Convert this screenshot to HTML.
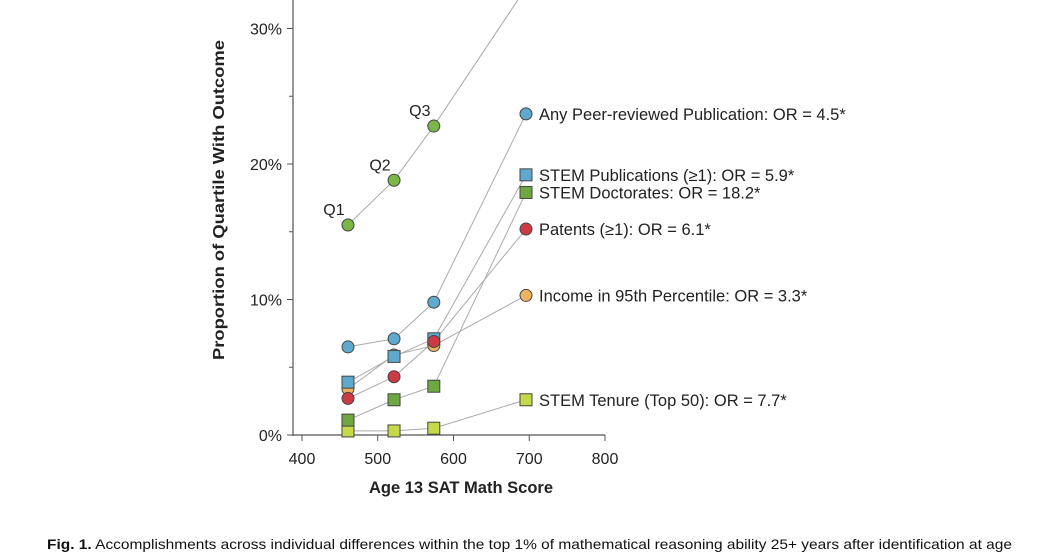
<!DOCTYPE html>
<html><head><meta charset="utf-8"><style>
html,body{margin:0;padding:0;background:#fff;}
svg{display:block;font-family:"Liberation Sans",sans-serif;}
</style></head><body>
<svg id="chart" width="1056" height="554" viewBox="0 0 1056 554">
<g id="axes"></g>
<g id="series"></g>
<text x="461" y="493" font-size="16.5" font-weight="bold" text-anchor="middle" fill="#222">Age 13 SAT Math Score</text>
<text transform="translate(224,200) rotate(-90)" font-size="16" font-weight="bold" text-anchor="middle" fill="#222" textLength="320" lengthAdjust="spacingAndGlyphs">Proportion of Quartile With Outcome</text>
<text x="47" y="549" font-size="14" textLength="965" lengthAdjust="spacingAndGlyphs" fill="#111"><tspan font-weight="bold">Fig. 1.</tspan> Accomplishments across individual differences within the top 1% of mathematical reasoning ability 25+ years after identification at age</text>
</svg>
<script>
const xTicks = [400, 500, 600, 700, 800];
const yTicks = [0, 10, 20, 30];
const yMinor = [5, 15, 25];
const xScores = [460.7, 521.5, 574, 695.7];
const seriesNames = ["Q-series","Any Peer-reviewed Publication: OR = 4.5*","STEM Publications (\u22651): OR = 5.9*","STEM Doctorates: OR = 18.2*","Patents (\u22651): OR = 6.1*","Income in 95th Percentile: OR = 3.3*","STEM Tenure (Top 50): OR = 7.7*"];
const vTop = [15.5, 18.8, 22.8, 33];
const vPeer = [6.5, 7.1, 9.8, 23.7];
const vStemPub = [3.9, 5.8, 7.1, 19.2];
const vStemDoc = [1.1, 2.6, 3.6, 17.9];
const vPatents = [2.7, 4.3, 6.9, 15.2];
const vIncome = [3.4, 5.9, 6.6, 10.3];
const vTenure = [0.3, 0.3, 0.5, 2.6];
const quartileLabels = ["Q1","Q2","Q3"];

const NS="http://www.w3.org/2000/svg";
const X = v => 302 + (v-400)*0.7575;
const Y = p => 435 - p*13.55;
function mk(tag, attrs, parent){const e=document.createElementNS(NS,tag);for(const k in attrs)e.setAttribute(k,attrs[k]);parent.appendChild(e);return e;}
const axes=document.getElementById('axes'), ser=document.getElementById('series');
let e;
e=mk('line',{x1:293,y1:0,x2:293,y2:436,stroke:'#555','stroke-width':1.2},axes);


e=mk('line',{x1:293,y1:435,x2:X(800),y2:435,stroke:'#555','stroke-width':1.2},axes);


xTicks.forEach(t=>{
  const l=mk('line',{x1:X(t),y1:435,x2:X(t),y2:441,stroke:'#555'},axes);
  
  
  const tx=mk('text',{x:X(t),y:464,'font-size':16,'text-anchor':'middle',fill:'#222'},axes);
  tx.textContent=t;
  
  
});
yTicks.forEach(t=>{
  const l=mk('line',{x1:287,y1:Y(t),x2:293,y2:Y(t),stroke:'#555'},axes);
  
  
  const tx=mk('text',{x:282,y:Y(t)+6,'font-size':16,'text-anchor':'end',fill:'#222'},axes);
  tx.textContent=t+'%';
  
  
});
yMinor.forEach(t=>{
  const l=mk('line',{x1:289,y1:Y(t),x2:293,y2:Y(t),stroke:'#555'},axes);
  
  
});
const defs=[
 {v:vTop,shape:'c',col:'#7ab648',label:null},
 {v:vTenure,shape:'s',col:'#c5d94a',label:6},
 {v:vStemDoc,shape:'s',col:'#6fa842',label:3},
 {v:vIncome,shape:'c',col:'#eeb260',label:5},
 {v:vStemPub,shape:'s',col:'#5fa9cf',label:2},
 {v:vPatents,shape:'c',col:'#cc3b44',label:4},
 {v:vPeer,shape:'c',col:'#5fa9cf',label:1},
];
defs.forEach(d=>{
  const pts=d.v.map((p,i)=>X(xScores[i])+','+Y(p)).join(' ');
  const pl=mk('polyline',{points:pts,fill:'none',stroke:'#aaa','stroke-width':1},ser);
  
  
});
defs.forEach(d=>{
  d.v.forEach((p,i)=>{
    if(d.label===null && i===3) return;
    const cx=X(xScores[i]), cy=Y(p);
    let m;
    if(d.shape==='c') m=mk('circle',{cx:cx,cy:cy,r:6,fill:d.col,stroke:'#444','stroke-width':1},ser);
    else m=mk('rect',{x:cx-6,y:cy-6,width:12,height:12,fill:d.col,stroke:'#444','stroke-width':1},ser);
    
    
  });
  if(d.label!==null){
    const t=mk('text',{x:539,y:Y(d.v[3])+6,'font-size':16.5,fill:'#222'},ser);
    t.textContent=seriesNames[d.label];
    
    
  }
});
quartileLabels.forEach((q,i)=>{
  const t=mk('text',{x:X(xScores[i])-14,y:Y(vTop[i])-10,'font-size':16,'text-anchor':'middle',fill:'#222'},ser);
  t.textContent=q;
  
  
});
</script>
</body></html>
